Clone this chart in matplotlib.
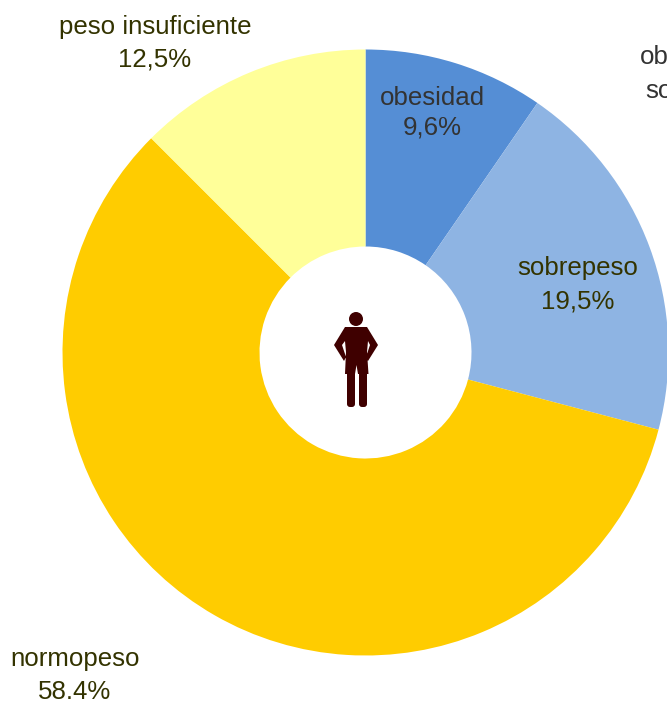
import matplotlib
matplotlib.use('Agg')
import matplotlib.pyplot as plt
from matplotlib.patches import Circle, Polygon, FancyBboxPatch

plt.rcParams['font.family'] = ['Liberation Sans', 'DejaVu Sans']

W = 667
H = 701

categorias = ['obesidad', 'sobrepeso', 'normopeso', 'peso insuficiente']
valores = [9.6, 19.5, 58.4, 12.5]
etiquetas = ['9,6%', '19,5%', '58.4%', '12,5%']
colores = ['#558ed5', '#8eb4e3', '#ffcc00', '#ffff99']
col_texto = ['#333333', '#333300', '#333300', '#333300']
# posicion de las etiquetas en pixeles (x, y linea 1, y linea 2)
pos_texto = [(432, 98, 128), (578, 268, 301), (75, 659, 692), (155, 27, 59)]

def Y(y):
    return H - y

fig = plt.figure(figsize=(W/100, H/100), dpi=100)
ax = fig.add_axes([0, 0, 1, 1])
ax.set_xlim(0, W)
ax.set_ylim(0, H)
ax.axis('off')

ax.pie(valores, colors=colores, startangle=90, counterclock=False,
       center=(365.5, Y(352.5)), radius=303,
       wedgeprops=dict(width=303-106, linewidth=0), frame=False)
ax.set_xlim(0, W)
ax.set_ylim(0, H)
ax.set_aspect('equal')

for i in range(len(categorias)):
    x, y1, y2 = pos_texto[i]
    ax.text(x, Y(y1), categorias[i], color=col_texto[i], fontsize=18.6, ha='center', va='center')
    ax.text(x, Y(y2), etiquetas[i], color=col_texto[i], fontsize=18.6, ha='center', va='center')

# texto cortado en el borde derecho del original
ax.text(640, Y(57), 'ob', color='#333333', fontsize=18.6, ha='left', va='center')
ax.text(645, Y(91), 'so', color='#333333', fontsize=18.6, ha='left', va='center')

# icono de la persona
c = '#3f0000'
ax.add_patch(Circle((356, Y(319)), 7, color=c, lw=0))
cuerpo = [(345, 327), (367, 327), (378, 345), (368, 361), (366, 357), (370, 345),
          (368, 341), (367, 352), (368.5, 374), (358, 374), (356.5, 365), (355, 374),
          (345, 374), (346, 352), (345, 341), (342, 345), (346, 357), (344, 361), (334, 345)]
ax.add_patch(Polygon([(x, Y(y)) for x, y in cuerpo], closed=True, color=c, lw=0))
for xp in [347, 359]:
    ax.add_patch(FancyBboxPatch((xp+3, Y(404)), 2, 32, boxstyle='round,pad=3', color=c, lw=0))

fig.savefig('out.png', dpi=100)
